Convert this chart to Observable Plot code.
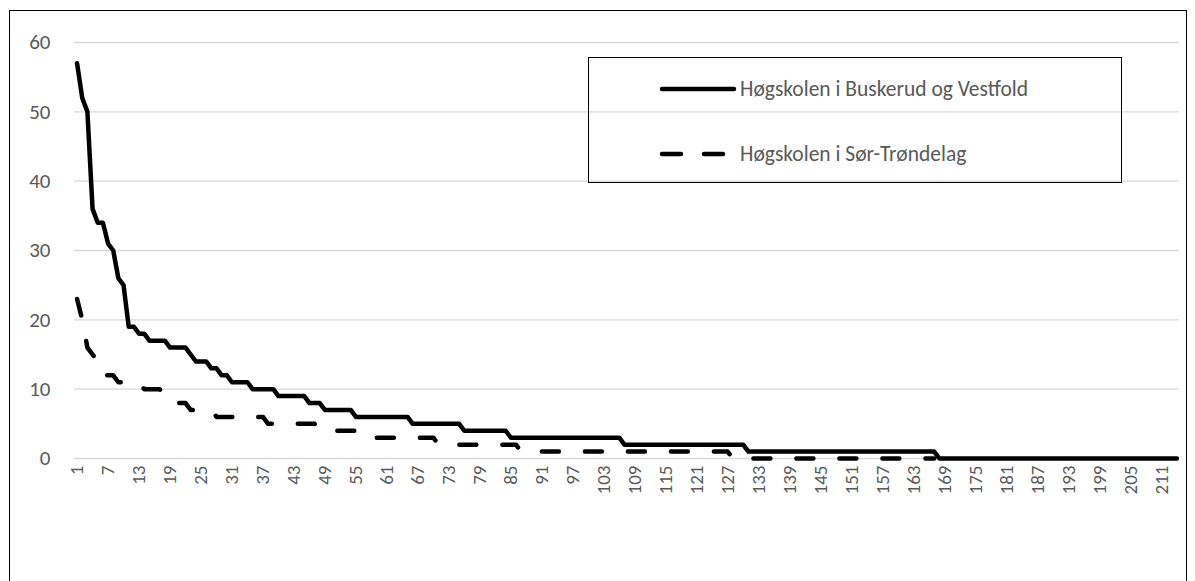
<!DOCTYPE html>
<html><head><meta charset="utf-8">
<script src="https://cdn.jsdelivr.net/npm/d3@7"></script>
<script src="https://cdn.jsdelivr.net/npm/@observablehq/plot@0.6"></script>
<style>
body{margin:0;background:#fff;}
#wrap{position:relative;width:1195px;height:581px;overflow:hidden;font-family:Calibri,Carlito,Lato,sans-serif;}
#frame{position:absolute;left:9px;top:10px;width:1178px;height:580px;border:1.3px solid #000;box-sizing:border-box;pointer-events:none}
#legend{position:absolute;left:588px;top:57px;width:534px;height:126px;border:1.3px solid #000;box-sizing:border-box;}
.row{position:absolute;left:70px;height:28px;display:flex;align-items:center;font-size:21.5px;color:#595959;white-space:nowrap}
.row svg{margin-right:3px}
#chart{position:absolute;left:0;top:0}
</style></head>
<body>
<div id="wrap">
  <div id="chart"></div>
  <div id="frame"></div>
  <div id="legend">
    <div class="row" style="top:17px"><svg width="78" height="10"><line x1="3" y1="5" x2="75" y2="5" stroke="#000" stroke-width="4.5" stroke-linecap="round"/></svg><span id="l1"></span></div>
    <div class="row" style="top:82px"><svg width="78" height="10"><line x1="3" y1="5" x2="75" y2="5" stroke="#000" stroke-width="4.5" stroke-linecap="round" stroke-dasharray="19,23"/></svg><span id="l2"></span></div>
  </div>
</div>
<script>
const seriesNames = ["Høgskolen i Buskerud og Vestfold", "Høgskolen i Sør-Trøndelag"];
const yTicks = [0, 10, 20, 30, 40, 50, 60];
const xTickLabels = [1, 7, 13, 19, 25, 31, 37, 43, 49, 55, 61, 67, 73, 79, 85, 91, 97, 103, 109, 115, 121, 127, 133, 139, 145, 151, 157, 163, 169, 175, 181, 187, 193, 199, 205, 211];
const categoryCount = 214;

const hbv = [
  57,52,50,36,34,34,31,30,26,25,
  19,19,18,18,17,17,17,17,16,16,
  16,16,15,14,14,14,13,13,12,12,
  11,11,11,11,10,10,10,10,10,9,
  9,9,9,9,9,8,8,8,7,7,
  7,7,7,7,6,6,6,6,6,6,
  6,6,6,6,6,5,5,5,5,5,
  5,5,5,5,5,4,4,4,4,4,
  4,4,4,4,3,3,3,3,3,3,
  3,3,3,3,3,3,3,3,3,3,
  3,3,3,3,3,3,2,2,2,2,
  2,2,2,2,2,2,2,2,2,2,
  2,2,2,2,2,2,2,2,2,2,
  1,1,1,1,1,1,1,1,1,1,
  1,1,1,1,1,1,1,1,1,1,
  1,1,1,1,1,1,1,1,1,1,
  1,1,1,1,1,1,1,0,0,0,
  0,0,0,0,0,0,0,0,0,0,
  0,0,0,0,0,0,0,0,0,0,
  0,0,0,0,0,0,0,0,0,0,
  0,0,0,0,0,0,0,0,0,0,
  0,0,0,0
];

const hist = [
  23,20,16,15,14,12,12,12,11,11,
  11,11,11,10,10,10,10,9,8,8,
  8,8,7,7,7,7,7,6,6,6,
  6,6,6,6,6,6,6,5,5,5,
  5,5,5,5,5,5,5,4,4,4,
  4,4,4,4,4,4,4,4,3,3,
  3,3,3,3,3,3,3,3,3,3,
  2,2,2,2,2,2,2,2,2,2,
  2,2,2,2,2,2,1,1,1,1,
  1,1,1,1,1,1,1,1,1,1,
  1,1,1,1,1,1,1,1,1,1,
  1,1,1,1,1,1,1,1,1,1,
  1,1,1,1,1,1,1,0,0,0,
  0,0,0,0,0,0,0,0,0,0,
  0,0,0,0,0,0,0,0,0,0,
  0,0,0,0,0,0,0,0,0,0,
  0,0,0,0,0,0,0
];

document.getElementById("l1").textContent = seriesNames[0];
document.getElementById("l2").textContent = seriesNames[1];

const font = "Calibri, Carlito, Lato, sans-serif";
const plot = Plot.plot({
  width: 1195,
  height: 581,
  marginLeft: 74,
  marginRight: 16,
  marginTop: 42,
  marginBottom: 123,
  style: {fontFamily: font, fontSize: "20px", color: "#595959", background: "transparent", overflow: "visible"},
  x: {type: "linear", domain: [0.5, categoryCount + 0.5], axis: null},
  y: {domain: [0, 60], axis: null},
  marks: [
    Plot.gridY(yTicks, {stroke: "#d9d9d9", strokeOpacity: 1, strokeWidth: 1.3}),
    Plot.axisY(yTicks, {tickSize: 0, tickPadding: 24, fill: "#595959", fontSize: 21, label: null}),
    Plot.axisX(xTickLabels, {tickSize: 0, tickPadding: 7, tickRotate: -90, fill: "#595959", fontSize: 19, label: null}),
    Plot.lineY(hbv, {x: (d, i) => i + 1, y: d => d, stroke: "#000", strokeWidth: 4.5, strokeLinejoin: "round", strokeLinecap: "round"}),
    Plot.lineY(hist, {x: (d, i) => i + 1, y: d => d, stroke: "#000", strokeWidth: 4.5, strokeLinejoin: "round", strokeLinecap: "round", strokeDasharray: "17,26"})
  ]
});
document.getElementById("chart").appendChild(plot);
</script>
</body></html>
